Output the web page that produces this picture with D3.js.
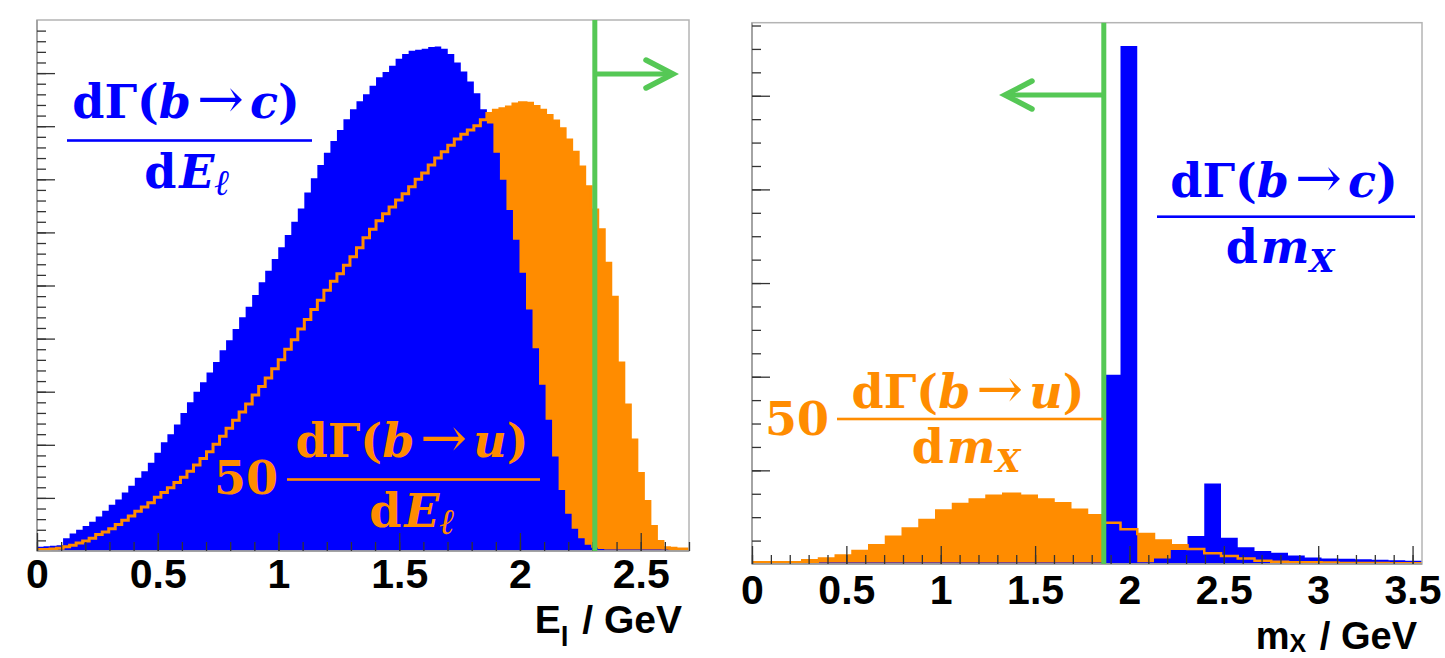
<!DOCTYPE html>
<html><head><meta charset="utf-8">
<script src="https://cdn.jsdelivr.net/npm/d3@7"></script>
<style>body{margin:0;background:#fff}svg{display:block}</style>
</head><body>
<svg id="c" width="1445" height="658"></svg>
<script>
// ---------------- data ----------------
const eRange = [0, 2.7];     // E_l histogram range (GeV), 100 bins
const mRange = [0, 3.55];    // m_X histogram range (GeV), 40 bins
const bcEl = [0.08,0.09,0.10,0.11,0.24,0.33,0.40,0.47,0.55,0.65,
  0.76,0.87,0.97,1.10,1.23,1.38,1.50,1.66,1.85,2.05,
  2.20,2.38,2.60,2.80,3.00,3.18,3.36,3.56,3.78,3.97,
  4.18,4.40,4.60,4.82,5.06,5.28,5.50,5.72,5.95,6.20,
  6.45,6.75,7.02,7.27,7.50,7.72,7.93,8.13,8.32,8.47,
  8.60,8.76,8.92,9.02,9.14,9.27,9.36,9.42,9.44,9.46,
  9.49,9.50,9.46,9.36,9.20,9.03,8.84,8.62,8.32,8.05,
  7.50,6.99,6.42,5.86,5.24,4.55,3.82,3.13,2.47,1.78,
  1.15,0.70,0.42,0.24,0.12,0.06,0.04,0.03,0.03,0.03,
  0.03,0.03,0.03,0.03,0.03,0.03,0.03,0,0,0];
const buEl = [0.03,0.03,0.04,0.05,0.08,0.11,0.15,0.19,0.24,0.31,
  0.36,0.42,0.50,0.58,0.66,0.75,0.83,0.91,1.01,1.10,
  1.19,1.29,1.39,1.50,1.62,1.74,1.87,2.01,2.16,2.31,
  2.46,2.62,2.77,2.94,3.10,3.26,3.43,3.60,3.80,3.98,
  4.18,4.36,4.55,4.72,4.91,5.08,5.22,5.38,5.54,5.71,
  5.90,6.06,6.22,6.35,6.48,6.61,6.73,6.86,7.00,7.12,
  7.27,7.40,7.52,7.64,7.76,7.85,7.93,8.01,8.12,8.24,
  8.30,8.33,8.36,8.42,8.44,8.43,8.37,8.30,8.20,8.10,
  7.95,7.74,7.51,7.23,6.86,6.42,6.05,5.42,4.78,3.54,
  2.75,2.09,1.46,0.93,0.46,0.18,0.06,0.05,0.04,0.04];
const bcMx = [0,0,0,0.005,0.015,0.015,0.015,0.015,0.015,0.015,
  0.015,0.015,0.015,0.015,0.015,0.015,0.015,0.015,0.015,0.015,
  0.015,2.02,5.53,0.02,0.06,0.15,0.30,0.86,0.28,0.18,
  0.14,0.12,0.09,0.07,0.06,0.055,0.05,0.045,0.04,0.035];
const buMx = [0.02,0.02,0.02,0.04,0.06,0.09,0.14,0.20,0.29,0.38,
  0.47,0.57,0.64,0.69,0.73,0.75,0.73,0.69,0.65,0.58,
  0.52,0.44,0.37,0.32,0.25,0.20,0.16,0.115,0.085,0.06,
  0.035,0.025,0.02,0.018,0.015,0.012,0.01,0.01,0.008,0.008];
const eTicks = [0, 0.5, 1, 1.5, 2, 2.5];
const eTickLabels = ["0", "0.5", "1", "1.5", "2", "2.5"];
const mTicks = [0, 0.5, 1, 1.5, 2, 2.5, 3, 3.5];
const mTickLabels = ["0", "0.5", "1", "1.5", "2", "2.5", "3", "3.5"];
const cuts = [2.31, 1.864];   // E_l > 2.31 GeV, m_X < 1.864 GeV

// ---------------- style ----------------
const BLUE = "#0000ff", ORANGE = "#ff8c00", GREEN = "#55c855";
const SERIF = "'DejaVu Serif', serif";
const SANS = "'Liberation Sans', Arial, Helvetica, sans-serif";
const svg = d3.select("#c");
svg.append("rect").attr("width", 1445).attr("height", 658).attr("fill", "#fff");

const rnd = a => a.map(v => +v.toFixed(3));

function panel(o) {
  const { x, y, bc, bu, range, id } = o;
  const g = svg.append("g");
  const [X0, X1] = x.range(), [Y0, Y1] = y.range();
  g.append("clipPath").attr("id", id).append("rect")
    .attr("x", X0).attr("y", Y1).attr("width", X1 - X0).attr("height", Y0 - Y1);
  const n = bc.length, w = (range[1] - range[0]) / n;
  const pts = v => v.map((d, i) => [range[0] + i * w, d]).concat([[range[1], v[n - 1]]]);
  const area = d3.area().x(d => x(d[0])).y0(y(0)).y1(d => y(d[1])).curve(d3.curveStepAfter);
  const line = d3.line().x(d => x(d[0])).y(d => y(d[1])).curve(d3.curveStepAfter);
  const h = g.append("g").attr("clip-path", `url(#${id})`);
  h.append("path").attr("d", area(pts(bu))).attr("fill", ORANGE);
  h.append("path").attr("d", area(pts(bc))).attr("fill", BLUE);
  h.append("path").attr("d", line(pts(bu))).attr("fill", "none")
    .attr("stroke", ORANGE).attr("stroke-width", o.lw);

  // frame
  g.append("rect").attr("x", X0).attr("y", Y1).attr("width", X1 - X0).attr("height", Y0 - Y1)
    .attr("fill", "none").attr("stroke", "#b4b4b4").attr("stroke-width", 1.5);
  g.append("line").attr("x1", X0).attr("x2", X0).attr("y1", Y1).attr("y2", Y0)
    .attr("stroke", "#999").attr("stroke-width", 1.5);
  g.append("line").attr("x1", X0).attr("x2", X1).attr("y1", Y0).attr("y2", Y0)
    .attr("stroke", "#999").attr("stroke-width", 1.5);

  const style = s => s.call(a => a.select(".domain").remove())
    .call(a => a.selectAll("line").attr("stroke", "#333").attr("stroke-width", 1.3));
  // x minor / major
  const xMinor = rnd(d3.range(range[0], range[1] + 1e-9, 0.1));
  g.append("g").attr("transform", `translate(0,${Y0})`)
    .call(d3.axisBottom(x).tickValues(xMinor).tickSize(-9).tickFormat(""))
    .call(style);
  g.append("g").attr("transform", `translate(0,${Y0})`)
    .call(d3.axisBottom(x).tickValues(o.ticks).tickSize(-18).tickPadding(o.pad)
      .tickFormat((d, i) => o.labels[i]))
    .call(style)
    .call(a => a.selectAll("text").attr("fill", "#000")
      .style("font-family", SANS).style("font-weight", "bold").style("font-size", "41px"));
  // y minor / major
  const yTop = y.domain()[1];
  g.append("g").attr("transform", `translate(${X0},0)`)
    .call(d3.axisLeft(y).tickValues(rnd(d3.range(o.yMinor, yTop, o.yMinor))).tickSize(-9).tickFormat(""))
    .call(style);
  g.append("g").attr("transform", `translate(${X0},0)`)
    .call(d3.axisLeft(y).tickValues(d3.range(1, yTop, 1)).tickSize(-18).tickFormat(""))
    .call(style);

  // cut line + arrow
  const xc = x(o.cut);
  g.append("line").attr("x1", xc).attr("x2", xc).attr("y1", Y1).attr("y2", Y0)
    .attr("stroke", GREEN).attr("stroke-width", 5);
  const ay = o.arrowY, tip = o.arrowTip, dir = Math.sign(tip - xc);
  g.append("line").attr("x1", xc).attr("x2", tip - dir * 2).attr("y1", ay).attr("y2", ay)
    .attr("stroke", GREEN).attr("stroke-width", 5);
  g.append("path")
    .attr("d", `M${tip - dir * 27},${ay - 14} L${tip},${ay} L${tip - dir * 27},${ay + 14}`)
    .attr("fill", "none").attr("stroke", GREEN).attr("stroke-width", 5.5)
    .attr("stroke-linecap", "round").attr("stroke-linejoin", "miter");
  return g;
}

const xL = d3.scaleLinear().domain(eRange).range([37, 689]);
const yL = d3.scaleLinear().domain([0, 10]).range([551, 20]);
const xR = d3.scaleLinear().domain(mRange).range([752, 1422]);
const yR = d3.scaleLinear().domain([0, 5.78]).range([564, 22.7]);

panel({ id: "cl", x: xL, y: yL, bc: bcEl, bu: buEl, range: eRange, ticks: eTicks, labels: eTickLabels,
  pad: 8, yMinor: 0.2, cut: cuts[0], arrowY: 74, arrowTip: 673, lw: 3 });
panel({ id: "cr", x: xR, y: yR, bc: bcMx, bu: buMx, range: mRange, ticks: mTicks, labels: mTickLabels,
  pad: 11, yMinor: 0.25, cut: cuts[1], arrowY: 95, arrowTip: 1005, lw: 2.5 });

// ---------------- axis titles ----------------
function axisTitle(xEnd, yBase, fs, main, sub, subFs, drop) {
  const t = svg.append("text").attr("x", xEnd).attr("y", yBase).attr("text-anchor", "end")
    .style("font-family", SANS).style("font-weight", "bold").style("font-size", fs + "px").attr("fill", "#000");
  t.append("tspan").text(main);
  t.append("tspan").attr("dy", drop).style("font-size", subFs + "px").text(sub);
  t.append("tspan").attr("dy", -drop).attr("dx", 3).text(" / GeV");
}
axisTitle(682, 633, 39, "E", "l", 28, 13);
axisTitle(1417, 649, 38, "m", "X", 25, 3);

// ---------------- physics labels ----------------
function runs(text, parts) {
  parts.forEach(p => {
    const s = text.append("tspan").text(p.t);
    if (p.it) s.style("font-style", "italic");
    if (p.dx) s.attr("dx", p.dx);
    if (p.dy) s.attr("dy", p.dy);
    if (p.fs) s.style("font-size", p.fs + "px");
    if (p.fw) s.style("font-weight", p.fw);
  });
}
function frac(o) {
  const g = svg.append("g").attr("fill", o.color)
    .style("font-family", SERIF).style("font-weight", "bold").style("font-size", "46px");
  const num = g.append("text").attr("x", o.numX).attr("y", o.numY).attr("text-anchor", "middle");
  runs(num, [{ t: "dΓ(" }, { t: "b", it: 1 }, { t: "→", dx: 6, fs: 56, fw: "normal" },
    { t: o.q, it: 1, dx: 6 }, { t: ")" }]);
  g.append("rect").attr("x", o.bar[0]).attr("y", o.barY - 1.3).attr("width", o.bar[1] - o.bar[0])
    .attr("height", 2.6);
  const den = g.append("text").attr("x", o.denX).attr("y", o.denY).attr("text-anchor", "middle");
  runs(den, [{ t: "d" }, { t: o.v, it: 1, dx: 3 }, { t: o.s, it: o.sIt, fs: o.sFs, dy: o.sDy }]);
  if (o.pre) g.append("text").attr("x", o.pre[0]).attr("y", o.pre[1]).attr("text-anchor", "end").text("50");
}
frac({ color: BLUE, q: "c", numX: 186, numY: 118, bar: [67, 312], barY: 140.5,
  denX: 187, denY: 188, v: "E", s: "ℓ", sIt: 1, sFs: 36, sDy: 7 });
frac({ color: ORANGE, q: "u", numX: 412, numY: 457, bar: [287, 540], barY: 479.5,
  denX: 412, denY: 527, v: "E", s: "ℓ", sIt: 1, sFs: 36, sDy: 7, pre: [278, 494] });
frac({ color: BLUE, q: "c", numX: 1284, numY: 197, bar: [1157, 1415], barY: 216.7,
  denX: 1280, denY: 263, v: "m", s: "X", sIt: 1, sFs: 32, sDy: 9 });
frac({ color: ORANGE, q: "u", numX: 968, numY: 408, bar: [837, 1103], barY: 419,
  denX: 966, denY: 463, v: "m", s: "X", sIt: 1, sFs: 32, sDy: 9, pre: [829, 435] });
</script>
</body></html>
